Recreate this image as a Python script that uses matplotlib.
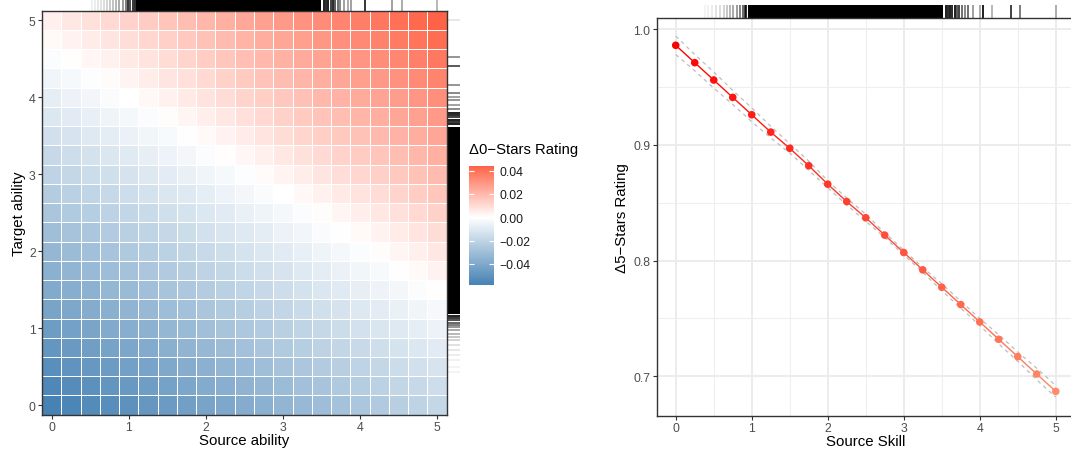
import numpy as np
import matplotlib
matplotlib.use("Agg")
import matplotlib.pyplot as plt
from matplotlib.colors import LinearSegmentedColormap, Normalize, to_rgba
from matplotlib.collections import LineCollection
from matplotlib.patches import Rectangle
import matplotlib.transforms as mtransforms

plt.rcParams['font.family'] = ['Liberation Sans', 'DejaVu Sans']

# ---------------------------------------------------------------
# datos
# ---------------------------------------------------------------
ability = [0, 0.25, 0.5, 0.75, 1, 1.25, 1.5, 1.75, 2, 2.25, 2.5,
           2.75, 3, 3.25, 3.5, 3.75, 4, 4.25, 4.5, 4.75, 5]

# Delta 0-stars rating (x1e-4), filas = target ability (0 -> 5), columnas = source ability
delta0 = [
    [-580, -560, -540, -521, -501, -481, -461, -442, -422, -402, -382, -363, -343, -323, -303, -284, -264, -244, -224, -205, -185],
    [-549, -529, -509, -490, -470, -450, -430, -411, -391, -371, -351, -332, -312, -292, -272, -253, -233, -213, -193, -174, -154],
    [-518, -498, -478, -459, -439, -419, -399, -380, -360, -340, -320, -301, -281, -261, -241, -222, -202, -182, -162, -143, -123],
    [-486, -466, -446, -427, -407, -387, -367, -348, -328, -308, -288, -269, -249, -229, -209, -190, -170, -150, -130, -111, -91],
    [-455, -435, -415, -396, -376, -356, -336, -317, -297, -277, -257, -238, -218, -198, -178, -159, -139, -119, -99, -80, -60],
    [-424, -404, -384, -365, -345, -325, -305, -286, -266, -246, -226, -207, -187, -167, -147, -128, -108, -88, -68, -49, -29],
    [-393, -373, -353, -334, -314, -294, -274, -255, -235, -215, -195, -176, -156, -136, -116, -97, -77, -57, -37, -18, 2],
    [-361, -341, -321, -302, -282, -262, -242, -223, -203, -183, -163, -144, -124, -104, -84, -65, -45, -25, -5, 14, 34],
    [-330, -310, -290, -271, -251, -231, -211, -192, -172, -152, -132, -113, -93, -73, -53, -34, -14, 6, 26, 45, 65],
    [-299, -279, -259, -240, -220, -200, -180, -161, -141, -121, -101, -82, -62, -42, -22, -3, 17, 37, 57, 76, 96],
    [-268, -248, -228, -209, -189, -169, -149, -130, -110, -90, -70, -51, -31, -11, 9, 28, 48, 68, 88, 107, 127],
    [-236, -216, -196, -177, -157, -137, -117, -98, -78, -58, -38, -19, 1, 21, 41, 60, 80, 100, 120, 139, 159],
    [-205, -185, -165, -146, -126, -106, -86, -67, -47, -27, -7, 12, 32, 52, 72, 91, 111, 131, 151, 170, 190],
    [-174, -154, -134, -115, -95, -75, -55, -36, -16, 4, 24, 43, 63, 83, 103, 122, 142, 162, 182, 201, 221],
    [-143, -123, -103, -84, -64, -44, -24, -5, 15, 35, 55, 74, 94, 114, 134, 153, 173, 193, 213, 232, 252],
    [-111, -91, -71, -52, -32, -12, 8, 27, 47, 67, 87, 106, 126, 146, 166, 185, 205, 225, 245, 264, 284],
    [-80, -60, -40, -21, -1, 19, 39, 58, 78, 98, 118, 137, 157, 177, 197, 216, 236, 256, 276, 295, 315],
    [-49, -29, -9, 10, 30, 50, 70, 89, 109, 129, 149, 168, 188, 208, 228, 247, 267, 287, 307, 326, 346],
    [-18, 2, 22, 41, 61, 81, 101, 120, 140, 160, 180, 199, 219, 239, 259, 278, 298, 318, 338, 357, 377],
    [14, 34, 54, 73, 93, 113, 133, 152, 172, 192, 212, 231, 251, 271, 291, 310, 330, 350, 370, 389, 409],
    [45, 65, 85, 104, 124, 144, 164, 183, 203, 223, 243, 262, 282, 302, 322, 341, 361, 381, 401, 420, 440],
]

# Delta 5-stars rating vs source skill
skill = ability
delta5 = [0.986, 0.971, 0.956, 0.941, 0.926, 0.911, 0.897, 0.882, 0.866, 0.851, 0.837,
          0.822, 0.807, 0.792, 0.777, 0.762, 0.747, 0.732, 0.717, 0.702, 0.687]
delta5_hi = [0.994, 0.978, 0.963, 0.947, 0.932, 0.916, 0.901, 0.886, 0.869, 0.854, 0.840,
             0.824, 0.809, 0.794, 0.780, 0.765, 0.750, 0.736, 0.721, 0.707, 0.692]
delta5_lo = [0.978, 0.964, 0.949, 0.935, 0.920, 0.906, 0.893, 0.878, 0.863, 0.848, 0.834,
             0.820, 0.805, 0.790, 0.774, 0.759, 0.744, 0.728, 0.713, 0.697, 0.682]

# rugs: tramo denso (negro) + lineas sueltas con su intensidad
src_core = (1.10, 3.50)
src_rug = [0.52, 0.56, 0.60, 0.64, 0.68, 0.72, 0.76, 0.80, 0.84, 0.88, 0.92, 0.96, 0.99, 1.02,
           1.05, 1.08, 3.53, 3.56, 3.59, 3.62, 3.65, 3.68, 3.71, 3.74,
           3.79, 3.84, 3.88, 4.07, 4.41, 4.55, 5.00]
src_rug_a = [0.06, 0.08, 0.10, 0.12, 0.15, 0.18, 0.22, 0.26, 0.30, 0.36, 0.42, 0.55, 0.85, 0.75,
             0.85, 0.90, 0.95, 0.90, 0.95, 0.80, 0.90, 0.70, 0.60, 0.50,
             0.40, 0.35, 0.40, 0.85, 0.40, 0.35, 0.30]

tgt_core = (1.18, 3.62)
tgt_rug = [0.43, 0.50, 0.58, 0.65, 0.72, 0.78, 0.84, 0.89, 0.93, 0.97, 1.01, 1.04, 1.07, 1.10,
           1.13, 1.16, 3.65, 3.68, 3.71, 3.74, 3.77, 3.80, 3.85, 3.90,
           3.97, 4.01, 4.05, 4.16, 4.40, 4.52, 5.00]
tgt_rug_a = [0.05, 0.05, 0.06, 0.08, 0.10, 0.13, 0.18, 0.24, 0.30, 0.36, 0.45, 0.55, 0.65, 0.75,
             0.85, 0.95, 0.95, 0.85, 0.95, 0.80, 0.90, 0.95, 0.50, 0.40,
             0.45, 0.40, 0.50, 0.45, 0.70, 0.45, 0.10]

skill_core = (0.95, 3.52)
skill_rug = [0.38, 0.43, 0.48, 0.53, 0.58, 0.63, 0.68, 0.72, 0.76, 0.80, 0.84, 0.88, 0.91, 0.93,
             3.55, 3.58, 3.61, 3.64, 3.67, 3.70, 3.73, 3.76, 3.80, 3.85, 3.91, 4.00, 4.04, 4.16,
             4.41, 4.53, 5.00]
skill_rug_a = [0.05, 0.06, 0.08, 0.12, 0.15, 0.18, 0.24, 0.30, 0.36, 0.42, 0.52, 0.62, 0.78, 0.88,
               0.95, 0.90, 0.95, 0.90, 0.95, 0.70, 0.80, 0.60, 0.50, 0.60, 0.40, 0.35, 0.95, 0.30,
               0.80, 0.55, 0.35]

# ---------------------------------------------------------------
# funciones
# ---------------------------------------------------------------
GRIS_TXT = "#4D4D4D"
BORDE = "#333333"


def dibujar_rug(ax, core, pos, alfas, lado, largo):
    """Rug por fuera del panel: lado 't' (arriba) o 'r' (derecha)."""
    if lado == "t":
        tr = mtransforms.blended_transform_factory(ax.transData, ax.transAxes)
        ax.add_patch(Rectangle((core[0], 1.0), core[1] - core[0], largo, transform=tr,
                               color="black", lw=0, clip_on=False))
        segs = [[(p, 1.0), (p, 1.0 + largo)] for p in pos]
    else:
        tr = mtransforms.blended_transform_factory(ax.transAxes, ax.transData)
        ax.add_patch(Rectangle((1.0, core[0]), largo, core[1] - core[0], transform=tr,
                               color="black", lw=0, clip_on=False))
        segs = [[(1.0, p), (1.0 + largo, p)] for p in pos]
    cols = [to_rgba("black", a) for a in alfas]
    lc = LineCollection(segs, colors=cols, linewidths=1.3, transform=tr, clip_on=False)
    ax.add_collection(lc)


def estilo_ejes(ax):
    for s in ax.spines.values():
        s.set_color(BORDE)
        s.set_linewidth(1.0)
    ax.tick_params(colors=BORDE, labelcolor=GRIS_TXT, labelsize=8.8, length=3, width=0.8,
                   pad=1.5)


# ---------------------------------------------------------------
# figura
# ---------------------------------------------------------------
fig = plt.figure(figsize=(10.71, 4.52), dpi=100)

# --- panel izquierdo: mapa de calor
ax1 = fig.add_axes([0.0392, 0.0803, 0.3779, 0.8938])
z = np.array(delta0) / 1e4
vmin, vmax = z.min(), z.max()
mid = -vmin / (vmax - vmin)
cmap = LinearSegmentedColormap.from_list(
    "div", [(0, "#4682B4"), (mid, "#FFFFFF"), (1, "#FF6347")])
norm = Normalize(vmin=vmin, vmax=vmax)
mesh = ax1.pcolormesh(ability, ability, z, cmap=cmap, norm=norm, shading="nearest",
                      edgecolors="white", linewidth=0.5)
ax1.set_xlim(-0.125, 5.125)
ax1.set_ylim(-0.125, 5.125)
ax1.set_xticks([0, 1, 2, 3, 4, 5])
ax1.set_yticks([0, 1, 2, 3, 4, 5])
estilo_ejes(ax1)
ax1.set_xlabel("Source ability", fontsize=10.8, labelpad=0)
ax1.set_ylabel("Target ability", fontsize=10.8, labelpad=2)

dibujar_rug(ax1, src_core, src_rug, src_rug_a, "t", 0.029)
dibujar_rug(ax1, tgt_core, tgt_rug, tgt_rug_a, "r", 0.033)

# barra de color
cax = fig.add_axes([0.4379, 0.3673, 0.0233, 0.2633])
cb = fig.colorbar(mesh, cax=cax)
cb.outline.set_visible(False)
cb.set_ticks([-0.04, -0.02, 0.0, 0.02, 0.04])
cb.set_ticklabels(["\u22120.04", "\u22120.02", "0.00", "0.02", "0.04"])
cax.tick_params(direction="in", color="white", length=3.6, width=0.8,
                left=True, right=True, labelsize=8.8, labelcolor="#1A1A1A", pad=4)
cax.set_title("\u03940\u2212Stars Rating", fontsize=10.7, loc="left", pad=9)

# --- panel derecho: linea
ax2 = fig.add_axes([0.6132, 0.0781, 0.3903, 0.8799])
ax2.set_xlim(-0.25, 5.25)
ax2.set_ylim(0.666, 1.0096)
ax2.set_xticks([0, 1, 2, 3, 4, 5])
ax2.set_xticks([0.5, 1.5, 2.5, 3.5, 4.5], minor=True)
ax2.set_yticks([0.7, 0.8, 0.9, 1.0])
ax2.set_yticks([0.75, 0.85, 0.95], minor=True)
ax2.grid(which="major", color="#EBEBEB", lw=1.3)
ax2.grid(which="minor", color="#EFEFEF", lw=0.8)
ax2.tick_params(which="minor", length=0)
ax2.set_axisbelow(True)
estilo_ejes(ax2)
ax2.set_xlabel("Source Skill", fontsize=10.8, labelpad=0)
ax2.set_ylabel("\u03945\u2212Stars Rating", fontsize=10.8, labelpad=3)

ax2.plot(skill, delta5_hi, color="#BEBEBE", lw=0.9, ls=(0, (3, 3)), zorder=2)
ax2.plot(skill, delta5_lo, color="#BEBEBE", lw=0.9, ls=(0, (3, 3)), zorder=2)

cmap_pts = LinearSegmentedColormap.from_list("rojos", ["#FF0000", "#FF8C69"])
norm_pts = Normalize(vmin=min(delta5), vmax=max(delta5))
cols = cmap_pts(1 - norm_pts(np.array(delta5)))
segs = [[(skill[i], delta5[i]), (skill[i + 1], delta5[i + 1])] for i in range(len(skill) - 1)]
ax2.add_collection(LineCollection(segs, colors=cols[:-1], linewidths=1.0, zorder=3))
ax2.scatter(skill, delta5, c=cols, s=30, lw=0, zorder=4)

dibujar_rug(ax2, skill_core, skill_rug, skill_rug_a, "t", 0.032)

fig.savefig("out.png", dpi=100)
